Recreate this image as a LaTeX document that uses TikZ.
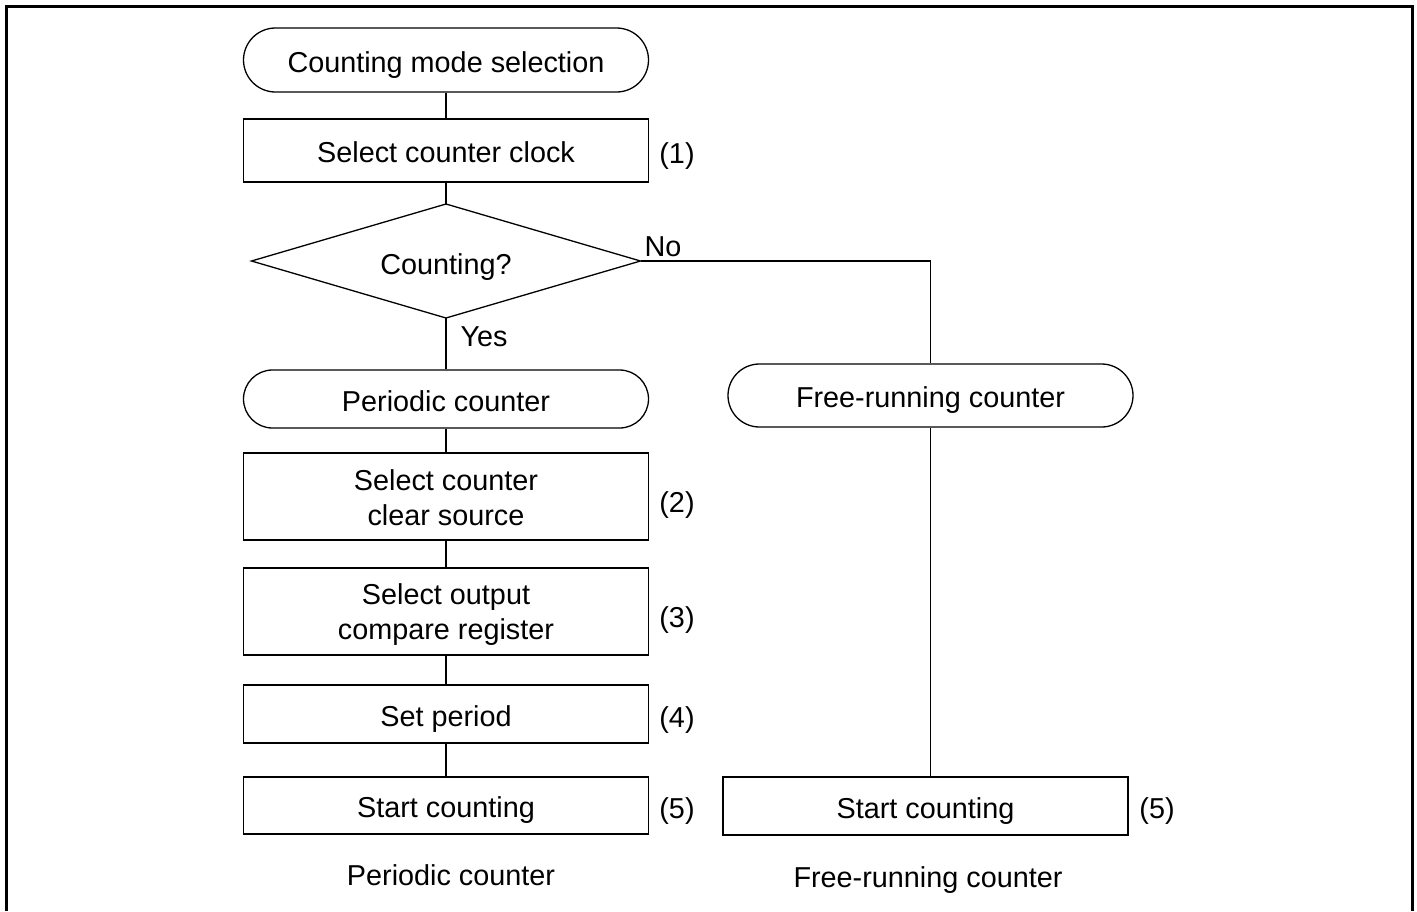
\documentclass[tikz,border=0pt]{standalone}
\usepackage{fontspec}
\setmainfont{Liberation Sans}
\usetikzlibrary{shapes.misc}
\begin{document}
\begin{tikzpicture}[x=1pt,y=-1pt,
  every node/.style={font=\fontsize{28.8}{35}\selectfont},
  one/.style={text height=27pt,text depth=3pt},
  box/.style={draw,line width=1.3pt,rectangle,minimum width=405pt,inner sep=0pt,align=center},
  term/.style={draw,line width=1.3pt,rounded rectangle,minimum width=405pt,inner sep=0pt,align=center,one},
  lbl/.style={inner sep=0pt,one},
  conn/.style={line width=1.3pt}]
\useasboundingbox (0,0) rectangle (1417,911);
\draw[line width=3pt] (6.5,911) -- (6.5,6.5) -- (1412.5,6.5) -- (1412.5,911);
% left column
\node[term,minimum height=64pt] (start) at (446,60) {Counting mode selection};
\node[box,one,minimum height=63pt] (clock) at (446,150.5) {Select counter clock};
% decision
\coordinate (diaN) at (446,204);
\coordinate (diaS) at (446,318);
\coordinate (diaW) at (251.5,261);
\coordinate (diaE) at (640.5,261);
\draw[line width=1.3pt,line join=miter] (diaN) -- (diaE) -- (diaS) -- (diaW) -- cycle;
\node[lbl] (dia) at (446,262) {Counting?};
\node[term,minimum height=58pt] (per) at (446,399) {Periodic counter};
\node[box,minimum height=87pt] (clear) at (446,496.5) {\rule{0pt}{27pt}Select counter\\clear source\rule[-5pt]{0pt}{5pt}};
\node[box,minimum height=87pt] (cmp) at (446,611.5) {\rule{0pt}{27pt}Select output\\compare register\rule[-5pt]{0pt}{5pt}};
\node[box,one,minimum height=58pt] (period) at (446,714) {Set period};
\node[box,one,minimum height=57pt] (startL) at (446,805.5) {Start counting};
% right column
\node[term,minimum height=63pt] (free) at (930.5,395.5) {Free-running counter};
\node[box,one,minimum height=58pt] (startR) at (925.5,806) {Start counting};
% step labels
\node[lbl] (n1) at (677,151) {(1)};
\node[lbl] (n2) at (677,500) {(2)};
\node[lbl] (n3) at (677,615) {(3)};
\node[lbl] (n4) at (677,715) {(4)};
\node[lbl] (n5) at (677,806) {(5)};
\node[lbl] (n5r) at (1157,806) {(5)};
\node[lbl] (yes) at (484,334) {Yes};
\node[lbl] (no) at (663,244) {No};
% captions
\node[lbl] (capL) at (451,873) {Periodic counter};
\node[lbl] (capR) at (928,875) {Free-running counter};
% connectors
\draw[conn] (start.south) -- (start.south |- clock.north);
\draw[conn] (clock.south) -- (diaN);
\draw[conn] (diaS) -- (diaS |- per.north);
\draw[conn] (diaE) -| (free.north);
\draw[conn] (per.south) -- (per.south |- clear.north);
\draw[conn] (clear.south) -- (clear.south |- cmp.north);
\draw[conn] (cmp.south) -- (cmp.south |- period.north);
\draw[conn] (period.south) -- (period.south |- startL.north);
\draw[conn] (free.south) -- (free.south |- startR.north);
\end{tikzpicture}
\end{document}
